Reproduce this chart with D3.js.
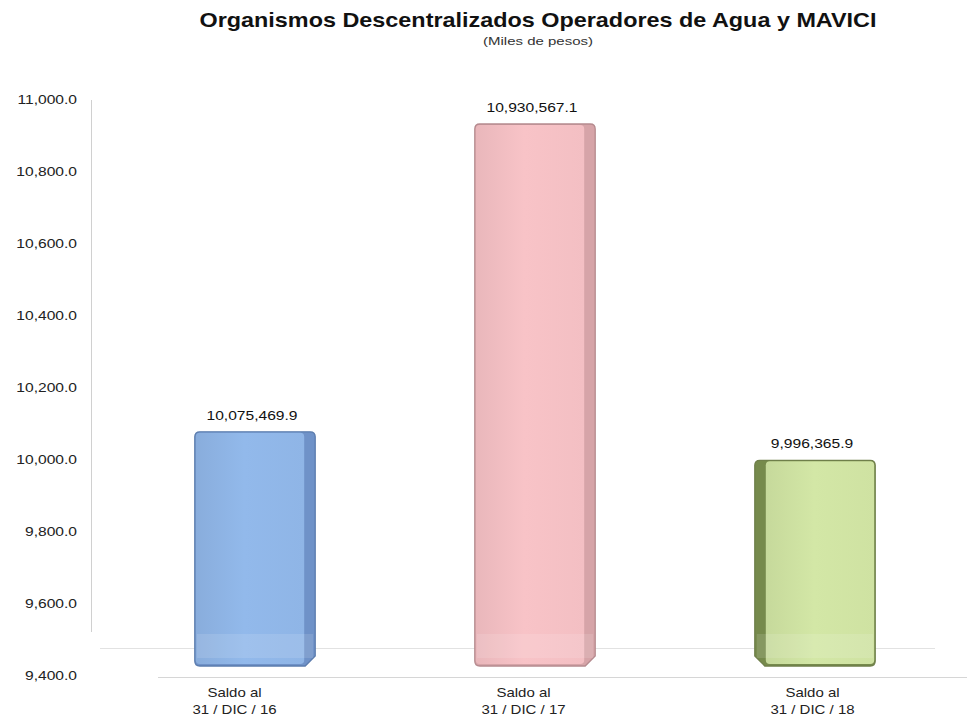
<!DOCTYPE html>
<html>
<head>
<meta charset="utf-8">
<script src="https://cdn.jsdelivr.net/npm/d3@7/dist/d3.min.js"></script>
<style>
  html, body { margin: 0; padding: 0; background: #ffffff; }
  svg { display: block; font-family: "Liberation Sans", Arial, sans-serif; }
</style>
</head>
<body>
<svg id="chart" width="967" height="724"></svg>
<script>
// ---- Data ----
const categories = ["Saldo al|31 / DIC / 16", "Saldo al|31 / DIC / 17", "Saldo al|31 / DIC / 18"];
const values = [10075469.9, 10930567.1, 9996365.9];          // miles de pesos
const valueLabels = ["10,075,469.9", "10,930,567.1", "9,996,365.9"];
const yTicks = [9400, 9600, 9800, 10000, 10200, 10400, 10600, 10800, 11000];
const barColors = ["#8fb5e6", "#f3bfc3", "#cfe2a2"];
const edgeColors = ["#5b7cad", "#b58a8e", "#6f7f4a"];
const sideColors = ["#6f92c8", "#d6a4a8", "#768a4c"];
const sideSides = ["right", "right", "left"];

const svg = d3.select("#chart");

// Scales
const y = d3.scaleLinear().domain([9400, 11000]).range([675, 99]);
const xLabel = d3.scaleBand().domain(d3.range(categories.length)).range([90, 957]);
const xBar = d3.scaleBand().domain(d3.range(categories.length)).range([115, 955]).paddingInner(0.57).paddingOuter(0.285);

// helper: horizontally stretched text
function stretchedText(parent, cx, cy, sx, anchor) {
  return parent.append("g").attr("transform", `translate(${cx},${cy}) scale(${sx},1)`)
    .append("text").attr("x", 0).attr("y", 0).attr("text-anchor", anchor);
}

// Title
stretchedText(svg, 538, 27, 1.17, "middle")
  .attr("font-size", 20).attr("font-weight", "bold").attr("fill", "#111")
  .text("Organismos Descentralizados Operadores de Agua y MAVICI");
stretchedText(svg, 538, 45, 1.5, "middle")
  .attr("font-size", 10).attr("fill", "#333").text("(Miles de pesos)");

// Floor / axis lines
svg.append("line").attr("x1", 91.5).attr("x2", 91.5).attr("y1", 100).attr("y2", 632)
  .attr("stroke", "#d0d0d0").attr("stroke-width", 1);
svg.append("line").attr("x1", 100).attr("x2", 935).attr("y1", 648.5).attr("y2", 648.5)
  .attr("stroke", "#e2e2e2").attr("stroke-width", 1);
svg.append("line").attr("x1", 158).attr("x2", 967).attr("y1", 677.5).attr("y2", 677.5)
  .attr("stroke", "#d6d6d6").attr("stroke-width", 1);

// Y axis tick labels (stretched horizontally)
const yAxis = d3.axisLeft(y).tickValues(yTicks).tickSize(0).tickPadding(0)
  .tickFormat(d => d3.format(",.1f")(d));
const gy = svg.append("g").attr("transform", "translate(77,0) scale(1.2,1)").call(yAxis);
gy.select(".domain").remove();
gy.selectAll("text").attr("font-size", 13).attr("fill", "#222")
  .attr("font-family", "'Liberation Sans', Arial, sans-serif");

// Gradients for front faces
const defs = svg.append("defs");
barColors.forEach((c, i) => {
  const g = defs.append("linearGradient").attr("id", "g" + i).attr("x1", 0).attr("x2", 1).attr("y1", 0).attr("y2", 0);
  const base = d3.color(c);
  g.append("stop").attr("offset", "0%").attr("stop-color", base.darker(0.12));
  g.append("stop").attr("offset", "45%").attr("stop-color", base.brighter(0.06));
  g.append("stop").attr("offset", "100%").attr("stop-color", base);
});

const baseY = y(9400) - 9;
const side = 10;

const bars = svg.append("g").selectAll("g.bar").data(values).join("g").attr("class", "bar");

bars.each(function(v, i) {
  const g = d3.select(this);
  const x0 = xBar(i), w = xBar.bandwidth();
  const top = y(v / 1000);
  const edge = edgeColors[i];
  const r = 5;
  if (sideSides[i] === "right") {
    const xf = x0 + w - side;
    // whole silhouette (front + side), side colour
    g.append("path")
      .attr("d", `M${x0 + r},${top} L${x0 + w - r},${top} Q${x0 + w},${top} ${x0 + w},${top + r} L${x0 + w},${baseY - side} L${xf},${baseY} L${x0 + r},${baseY} Q${x0},${baseY} ${x0},${baseY - r} L${x0},${top + r} Q${x0},${top} ${x0 + r},${top}Z`)
      .attr("fill", sideColors[i]).attr("stroke", edge).attr("stroke-width", 1.3);
    g.append("rect").attr("x", x0 + 1).attr("y", top + 1).attr("width", w - side - 2).attr("height", baseY - top - 3)
      .attr("rx", 4).attr("fill", `url(#g${i})`);
  } else {
    const xf = x0 + side;
    g.append("path")
      .attr("d", `M${x0 + r},${top} L${x0 + w - r},${top} Q${x0 + w},${top} ${x0 + w},${top + r} L${x0 + w},${baseY - r} Q${x0 + w},${baseY} ${x0 + w - r},${baseY} L${xf},${baseY} L${x0},${baseY - side} L${x0},${top + r} Q${x0},${top} ${x0 + r},${top}Z`)
      .attr("fill", sideColors[i]).attr("stroke", edge).attr("stroke-width", 1.3);
    g.append("rect").attr("x", x0 + side + 1).attr("y", top + 1).attr("width", w - side - 2).attr("height", baseY - top - 3)
      .attr("rx", 4).attr("fill", `url(#g${i})`);
  }
  // subtle lighter band near the floor
  g.append("rect").attr("x", x0 + 2).attr("y", baseY - 32).attr("width", w - 4).attr("height", 24)
    .attr("fill", "#ffffff").attr("opacity", 0.12);
});

// Value labels
const vl = svg.append("g").selectAll("g").data(values).join("g")
  .attr("transform", (d, i) => `translate(${xBar(i) + xBar.bandwidth() / 2 - 3},${y(d / 1000) - 12}) scale(1.2,1)`);
vl.append("text").attr("text-anchor", "middle").attr("font-size", 13).attr("fill", "#111")
  .text((d, i) => valueLabels[i]);

// Category labels
const cg = svg.append("g").selectAll("g").data(categories).join("g")
  .attr("transform", (d, i) => `translate(${xLabel(i) + xLabel.bandwidth() / 2},697) scale(1.2,1)`);
cg.each(function(d) {
  const parts = d.split("|");
  const t = d3.select(this).append("text").attr("text-anchor", "middle")
    .attr("font-size", 12.5).attr("fill", "#222");
  parts.forEach((p, k) => {
    t.append("tspan").attr("x", 0).attr("dy", k === 0 ? 0 : 17).text(p);
  });
});
</script>
</body>
</html>
